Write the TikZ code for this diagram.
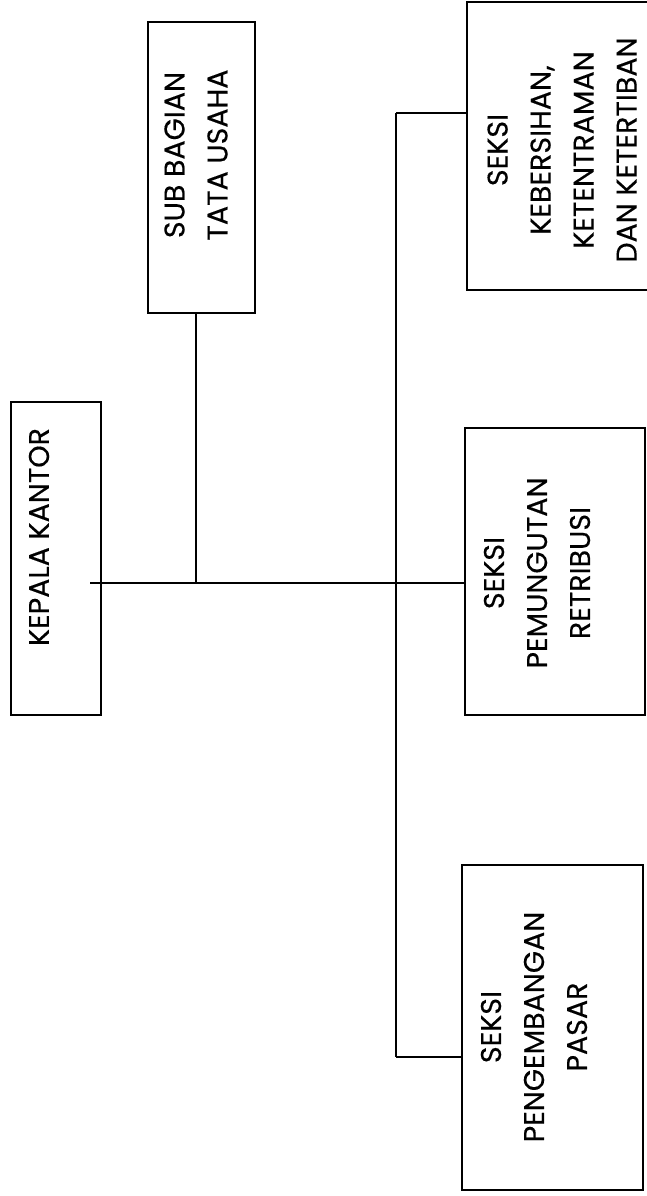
\documentclass[tikz,border=0pt]{standalone}
\usepackage{fontspec}
\setmainfont{Poppins}[FakeBold=0.3]
\usetikzlibrary{calc}
\begin{document}
\begin{tikzpicture}[x=1pt,y=-1pt,
  box/.style={draw=black, line width=1.3pt, rectangle, inner sep=0pt},
  lbl/.style={rotate=90, align=center, font=\fontsize{28.5}{43}\selectfont, inner sep=0pt},
  conn/.style={draw=black, line width=1.2pt}]
\useasboundingbox (0,0) rectangle (647,1196);
\fill[white] (0,0) rectangle (647,1196);
% boxes
\node[box, minimum width=90pt, minimum height=313pt] (kepala) at (56,558.5) {};
\node[box, minimum width=107pt, minimum height=291pt] (subbag) at (201.5,167.5) {};
\node[box, minimum width=193pt, minimum height=288pt] (keber) at (563.5,146) {};
\node[box, minimum width=180pt, minimum height=287pt] (pemung) at (555,571.5) {};
\node[box, minimum width=181pt, minimum height=325pt] (pengemb) at (552.5,1027.5) {};
% labels
\node[lbl] (tkepala) at (39,537) {KEPALA KANTOR};
\node[lbl] (tsubbag) at (196,155) {SUB BAGIAN\\TATA USAHA};
\node[lbl] (tkeber) at (562,150) {SEKSI\\KEBERSIHAN,\\KETENTRAMAN\\DAN KETERTIBAN};
\node[lbl] (tpemung) at (537,573) {SEKSI\\PEMUNGUTAN\\RETRIBUSI};
\node[lbl] (tpengemb) at (534,1027) {SEKSI\\PENGEMBANGAN\\PASAR};
% connectors
\coordinate (start) at (90,583);
\coordinate (jsub) at (196,583);
\coordinate (jtop) at (396,113);
\coordinate (jbot) at (396,1057);
\draw[conn] (start) -- (pemung.west |- start);
\draw[conn] (jsub) -- (subbag.south -| jsub);
\draw[conn] (jtop) -- (jbot);
\draw[conn] (jtop) -- (keber.west |- jtop);
\draw[conn] (jbot) -- (pengemb.west |- jbot);
\end{tikzpicture}
\end{document}
